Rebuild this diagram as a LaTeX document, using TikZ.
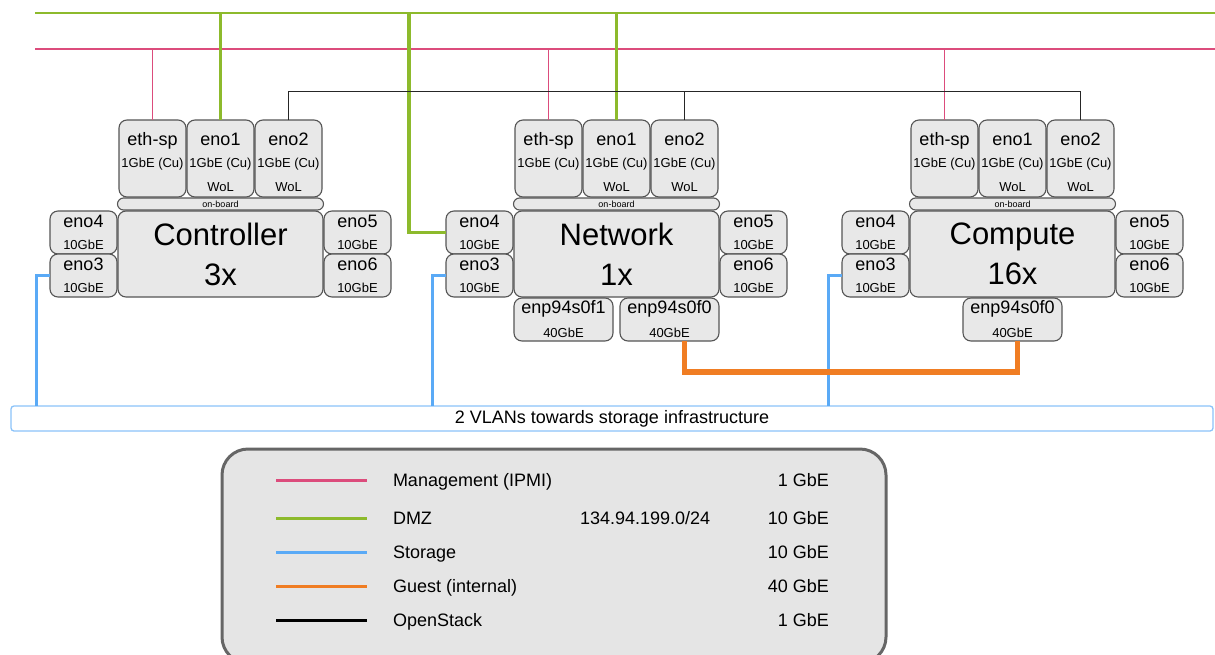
\documentclass[tikz,border=0pt]{standalone}
\usepackage{fontspec}
\setmainfont{Liberation Sans}
\usepackage{xcolor}
\usetikzlibrary{positioning}

\definecolor{mgmt}{HTML}{DC4C7C}
\definecolor{dmz}{HTML}{8DBA2C}
\definecolor{stor}{HTML}{5AAAF6}
\definecolor{guest}{HTML}{F07D23}
\definecolor{boxfill}{HTML}{E8E8E8}
\definecolor{boxline}{HTML}{555555}

\newcommand{\nicsub}[1]{{\fontsize{13}{13}\selectfont #1}}
\newcommand{\nictop}{\rule{0pt}{21pt}}

\begin{document}
\begin{tikzpicture}[
  x=1pt, y=-1pt,
  node distance=1pt,
  every node/.style={inner sep=0pt, outer sep=0pt},
  nic/.style     ={rectangle, draw=boxline, fill=boxfill, line width=1.1pt,
                   rounded corners=8pt, align=center, font=\fontsize{18}{19}\selectfont},
  topnic/.style  ={nic, minimum width=67pt, minimum height=77pt},
  sidenic/.style ={nic, minimum width=67pt, minimum height=43pt},
  fastnic/.style ={nic, minimum width=99pt, minimum height=43pt},
  srv/.style     ={nic, minimum width=205pt, minimum height=86pt,
                   font=\fontsize{31}{36}\selectfont},
  board/.style   ={nic, minimum width=206pt, minimum height=12pt,
                   rounded corners=6pt, font=\fontsize{9}{9}\selectfont},
  vlanbar/.style ={rectangle, draw=stor!70, fill=white, line width=1.3pt,
                   rounded corners=3pt, font=\fontsize{18}{18}\selectfont},
  legendbox/.style={rectangle, draw=black!60, fill=black!10, line width=3pt,
                   rounded corners=26pt},
  legendtxt/.style={font=\fontsize{18}{18}\selectfont},
  mgmtline/.style ={mgmt, line width=1.2pt},
  dmzline/.style  ={dmz, line width=2.2pt},
  storline/.style ={stor, line width=3pt},
  guestline/.style={guest, line width=5.5pt},
  osline/.style   ={black!85, line width=1pt}
]
\useasboundingbox (0,0) rectangle (1215,654);

%--- Controller -------------------------------------------------------------
\node[srv]     (ctl-main)  at (220.5,254) {Controller\\[4pt]3x};
\node[board]   (ctl-board) [above=of ctl-main] {on-board};
\node[topnic]  (ctl-eno1)  [above=of ctl-board] {\nictop eno1\\[3pt]\nicsub{1GbE (Cu)}\\[5pt]\nicsub{WoL}};
\node[topnic]  (ctl-ethsp) [left=of ctl-eno1] {\nictop eth-sp\\[3pt]\nicsub{1GbE (Cu)}\\[5pt]\nicsub{\phantom{WoL}}};
\node[topnic]  (ctl-eno2)  [right=of ctl-eno1] {\nictop eno2\\[3pt]\nicsub{1GbE (Cu)}\\[5pt]\nicsub{WoL}};
\node[sidenic] (ctl-eno4)  [below left=0pt and 1pt of ctl-main.north west] {eno4\\[3pt]\nicsub{10GbE}};
\node[sidenic] (ctl-eno3)  [above left=0pt and 1pt of ctl-main.south west] {eno3\\[3pt]\nicsub{10GbE}};
\node[sidenic] (ctl-eno5)  [below right=0pt and 1pt of ctl-main.north east] {eno5\\[3pt]\nicsub{10GbE}};
\node[sidenic] (ctl-eno6)  [above right=0pt and 1pt of ctl-main.south east] {eno6\\[3pt]\nicsub{10GbE}};

%--- Network ----------------------------------------------------------------
\node[srv]     (net-main)  at (616.5,254) {Network\\[4pt]1x};
\node[board]   (net-board) [above=of net-main] {on-board};
\node[topnic]  (net-eno1)  [above=of net-board] {\nictop eno1\\[3pt]\nicsub{1GbE (Cu)}\\[5pt]\nicsub{WoL}};
\node[topnic]  (net-ethsp) [left=of net-eno1] {\nictop eth-sp\\[3pt]\nicsub{1GbE (Cu)}\\[5pt]\nicsub{\phantom{WoL}}};
\node[topnic]  (net-eno2)  [right=of net-eno1] {\nictop eno2\\[3pt]\nicsub{1GbE (Cu)}\\[5pt]\nicsub{WoL}};
\node[sidenic] (net-eno4)  [below left=0pt and 1pt of net-main.north west] {eno4\\[3pt]\nicsub{10GbE}};
\node[sidenic] (net-eno3)  [above left=0pt and 1pt of net-main.south west] {eno3\\[3pt]\nicsub{10GbE}};
\node[sidenic] (net-eno5)  [below right=0pt and 1pt of net-main.north east] {eno5\\[3pt]\nicsub{10GbE}};
\node[sidenic] (net-eno6)  [above right=0pt and 1pt of net-main.south east] {eno6\\[3pt]\nicsub{10GbE}};
\node[fastnic] (net-f1)    [below right=1pt and 0pt of net-main.south west] {enp94s0f1\\[5pt]\nicsub{40GbE}};
\node[fastnic] (net-f0)    [below left=1pt and 0pt of net-main.south east] {enp94s0f0\\[5pt]\nicsub{40GbE}};

%--- Compute ----------------------------------------------------------------
\node[srv]     (cmp-main)  at (1012.5,254) {Compute\\[4pt]16x};
\node[board]   (cmp-board) [above=of cmp-main] {on-board};
\node[topnic]  (cmp-eno1)  [above=of cmp-board] {\nictop eno1\\[3pt]\nicsub{1GbE (Cu)}\\[5pt]\nicsub{WoL}};
\node[topnic]  (cmp-ethsp) [left=of cmp-eno1] {\nictop eth-sp\\[3pt]\nicsub{1GbE (Cu)}\\[5pt]\nicsub{\phantom{WoL}}};
\node[topnic]  (cmp-eno2)  [right=of cmp-eno1] {\nictop eno2\\[3pt]\nicsub{1GbE (Cu)}\\[5pt]\nicsub{WoL}};
\node[sidenic] (cmp-eno4)  [below left=0pt and 1pt of cmp-main.north west] {eno4\\[3pt]\nicsub{10GbE}};
\node[sidenic] (cmp-eno3)  [above left=0pt and 1pt of cmp-main.south west] {eno3\\[3pt]\nicsub{10GbE}};
\node[sidenic] (cmp-eno5)  [below right=0pt and 1pt of cmp-main.north east] {eno5\\[3pt]\nicsub{10GbE}};
\node[sidenic] (cmp-eno6)  [above right=0pt and 1pt of cmp-main.south east] {eno6\\[3pt]\nicsub{10GbE}};
\node[fastnic] (cmp-f0)    [below=of cmp-main] {enp94s0f0\\[5pt]\nicsub{40GbE}};

%--- storage bar ------------------------------------------------------------
\node[vlanbar, anchor=north west, minimum width=1202pt, minimum height=25pt]
  (vlan) at (11,406) {2 VLANs towards storage infrastructure};

%--- buses ------------------------------------------------------------------
\coordinate (dmzW)  at (35,13);
\coordinate (dmzE)  at (1215,13);
\coordinate (mgmtW) at (35,49);
\coordinate (mgmtE) at (1215,49);
\coordinate (osbus) at (0,91);
\coordinate (dmzjog) at (409,13);

\draw[mgmtline] (mgmtW) -- (mgmtE);
\draw[dmzline]  (dmzW) -- (dmzE);

%--- management drops
\draw[mgmtline] (ctl-ethsp.north) -- (ctl-ethsp.north |- mgmtW);
\draw[mgmtline] (net-ethsp.north) -- (net-ethsp.north |- mgmtW);
\draw[mgmtline] (cmp-ethsp.north) -- (cmp-ethsp.north |- mgmtW);

%--- DMZ drops
\draw[dmzline] (ctl-eno1.north) -- (ctl-eno1.north |- dmzW);
\draw[dmzline] (net-eno1.north) -- (net-eno1.north |- dmzW);
\draw[dmzline, line width=3.2pt] (net-eno4.west) -| (dmzjog);

%--- OpenStack
\draw[osline] (ctl-eno2.north) -- (ctl-eno2.north |- osbus)
  -- (cmp-eno2.north |- osbus) -- (cmp-eno2.north);
\draw[osline] (net-eno2.north) -- (net-eno2.north |- osbus);

%--- storage
\draw[storline] (ctl-eno3.west) -| ([xshift=-14pt]ctl-eno3.west |- vlan.north);
\draw[storline] (net-eno3.west) -| ([xshift=-14pt]net-eno3.west |- vlan.north);
\draw[storline] (cmp-eno3.west) -| ([xshift=-14pt]cmp-eno3.west |- vlan.north);

%--- guest
\draw[guestline] ([xshift=15pt]net-f0.south) -- ++(0,31) -| ([xshift=5pt]cmp-f0.south);

%--- legend -----------------------------------------------------------------
\node[legendbox, anchor=north west, minimum width=664pt, minimum height=214pt]
  (legend) at (222,449) {};

\draw[mgmt, line width=3pt]     (276,480) -- (367,480);
\draw[dmz, line width=3pt]      (276,518) -- (367,518);
\draw[stor, line width=3pt]     (276,552) -- (367,552);
\draw[guest, line width=3pt]    (276,586) -- (367,586);
\draw[black, line width=3pt]    (276,620) -- (367,620);

\node[legendtxt, anchor=base west] (lg-mgmt)  at (393,486.5) {Management (IPMI)};
\node[legendtxt, anchor=base west] (lg-dmz)   at (393,524.5) {DMZ};
\node[legendtxt, anchor=base west] (lg-stor)  at (393,558.5) {Storage};
\node[legendtxt, anchor=base west] (lg-guest) at (393,592.5) {Guest (internal)};
\node[legendtxt, anchor=base west] (lg-os)    at (393,626.5) {OpenStack};
\node[legendtxt, anchor=base west] (lg-net)   at (580,524.5) {134.94.199.0/24};

\node[legendtxt, anchor=base east] (sp-mgmt)  at (829,486.5) {1 GbE};
\node[legendtxt, anchor=base east] (sp-dmz)   at (829,524.5) {10 GbE};
\node[legendtxt, anchor=base east] (sp-stor)  at (829,558.5) {10 GbE};
\node[legendtxt, anchor=base east] (sp-guest) at (829,592.5) {40 GbE};
\node[legendtxt, anchor=base east] (sp-os)    at (829,626.5) {1 GbE};
\end{tikzpicture}
\end{document}
